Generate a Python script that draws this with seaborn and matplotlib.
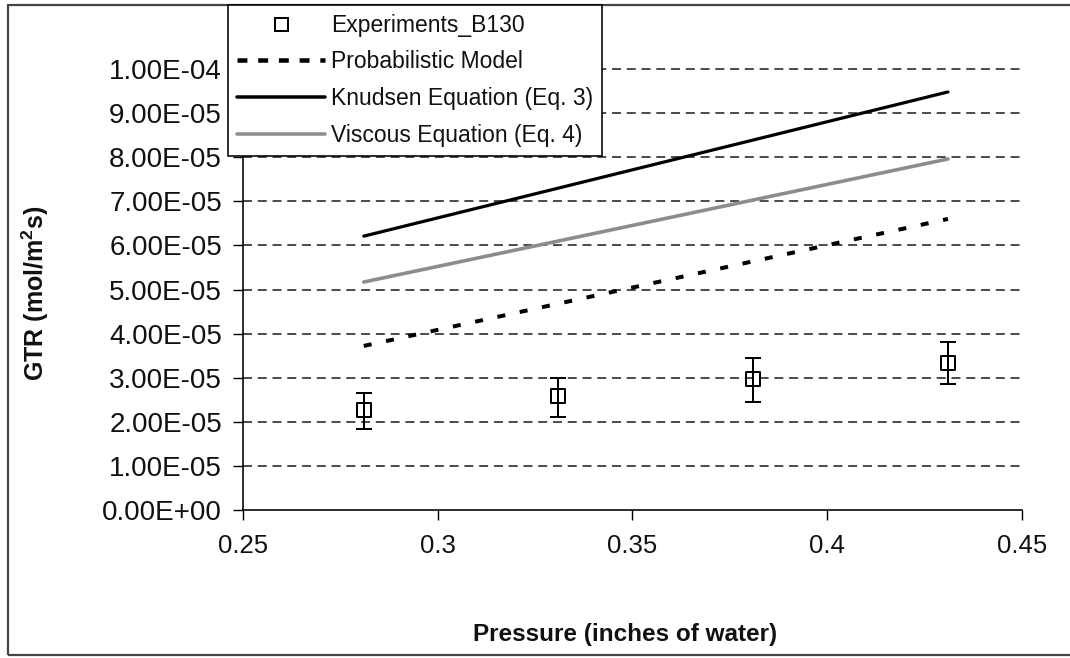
import matplotlib
matplotlib.use("Agg")
import matplotlib.pyplot as plt
from matplotlib.lines import Line2D
from matplotlib.patches import Rectangle
from matplotlib.ticker import FuncFormatter
import numpy as np
import pandas as pd
import seaborn as sns

# Pressure levels (inches of water)
pressure = [0.281, 0.331, 0.381, 0.431]

# Measured gas transmission rate, B130 sample (mol/m^2 s)
exp_gtr = [2.27e-5, 2.59e-5, 2.97e-5, 3.33e-5]
exp_err_hi = [0.38e-5, 0.41e-5, 0.48e-5, 0.47e-5]
exp_err_lo = [0.43e-5, 0.49e-5, 0.52e-5, 0.47e-5]

# Model predictions
prob_model = [3.72e-5, 4.68e-5, 5.64e-5, 6.60e-5]
knudsen = [6.21e-5, 7.30e-5, 8.39e-5, 9.48e-5]
viscous = [5.17e-5, 6.10e-5, 7.03e-5, 7.96e-5]

y_ticks = [0, 1e-5, 2e-5, 3e-5, 4e-5, 5e-5, 6e-5, 7e-5, 8e-5, 9e-5, 1e-4]
x_ticks = [0.25, 0.3, 0.35, 0.4, 0.45]

labels = ["Experiments_B130", "Probabilistic Model",
          "Knudsen Equation (Eq. 3)", "Viscous Equation (Eq. 4)"]

sns.set_theme(style="white")
plt.rcParams["font.family"] = ["Liberation Sans", "DejaVu Sans"]
plt.rcParams["mathtext.fontset"] = "custom"
plt.rcParams["mathtext.rm"] = "Liberation Sans"
plt.rcParams["mathtext.bf"] = "Liberation Sans:bold"

W, H = 1070, 658
fig = plt.figure(figsize=(W / 100, H / 100), dpi=100)
ax = fig.add_axes([243 / W, 1 - 510 / H, (1022 - 243) / W, (510 - 69) / H])

px = 72 / 100  # points per pixel

df = pd.DataFrame({"p": pressure, "exp": exp_gtr, "prob": prob_model,
                   "knud": knudsen, "visc": viscous})

# horizontal dashed grid
for yv in y_ticks[1:]:
    ax.axhline(yv, color="#3c3c3c", lw=1.8 * px, dashes=(5, 3.2), zorder=1,
               clip_on=False)

sns.lineplot(data=df, x="p", y="knud", ax=ax, color="black", lw=3.2 * px,
             zorder=3, legend=False)
sns.lineplot(data=df, x="p", y="visc", ax=ax, color="#8c8c8c", lw=3.6 * px,
             zorder=3, legend=False)
prob_line = sns.lineplot(data=df, x="p", y="prob", ax=ax, color="black",
                         lw=4 * px, zorder=3, legend=False).lines[-1]
prob_line.set_dashes((2.0, 3.7))

ax.errorbar(pressure, exp_gtr, yerr=[exp_err_lo, exp_err_hi], fmt="none",
            ecolor="black", elinewidth=2 * px, capsize=8 * px,
            capthick=2 * px, zorder=4)
sns.scatterplot(data=df, x="p", y="exp", ax=ax, marker="s", s=(14 * px) ** 2,
                facecolor="none", edgecolor="black", linewidth=2 * px,
                zorder=5, legend=False)

ax.set_xlim(0.25, 0.45)
ax.set_ylim(0, 1e-4)
ax.set_xticks(x_ticks)
ax.set_yticks(y_ticks)
ax.xaxis.set_major_formatter(FuncFormatter(lambda v, _: f"{v:g}"))
ax.yaxis.set_major_formatter(FuncFormatter(lambda v, _: f"{v:.2E}"))
ax.tick_params(axis="both", direction="out", length=10 * px, width=1.4 * px,
               color="black", labelcolor="#111111")
ax.tick_params(axis="y", labelsize=20, pad=11 * px, left=True)
ax.tick_params(axis="x", labelsize=18.5, pad=14 * px, bottom=True)

for side in ["top", "right"]:
    ax.spines[side].set_visible(False)
for side in ["left", "bottom"]:
    ax.spines[side].set_color("black")
    ax.spines[side].set_linewidth(1.6 * px)
ax.grid(False)

ax.set_xlabel("")
ax.set_ylabel("")
fig.text(35 / W, 1 - 293 / H, r"GTR (mol/m$^{\mathbf{2}}$s)", rotation=90,
         ha="center", va="center", fontsize=18, fontweight="bold",
         color="#111111")
fig.text(625 / W, 1 - 635 / H, "Pressure (inches of water)", ha="center",
         va="center", fontsize=17.5, fontweight="bold", color="#111111")

# legend
handles = [
    Line2D([], [], ls="none", marker="s", markersize=13 * px,
           markerfacecolor="white", markeredgecolor="black",
           markeredgewidth=2 * px),
    Line2D([], [], color="black", lw=4.5 * px, dashes=(2.2, 2.4)),
    Line2D([], [], color="black", lw=3.5 * px),
    Line2D([], [], color="#8c8c8c", lw=3.5 * px),
]
leg = fig.legend(handles, labels, loc="upper left",
                 bbox_to_anchor=(228 / W, 1 - 5 / H), fontsize=16.5,
                 frameon=True, fancybox=False, framealpha=1,
                 edgecolor="black", handlelength=3.85, handletextpad=0.25,
                 labelspacing=0.6, borderpad=0.38, borderaxespad=0)
leg.get_frame().set_linewidth(1.6 * px)
for t in leg.get_texts():
    t.set_color("#111111")

# outer frame
fig.patches.append(Rectangle((8 / W, 1 - 655 / H), 1.2, (655 - 5) / H,
                             transform=fig.transFigure, fill=False,
                             edgecolor="#444444", lw=2.2 * px, zorder=0))

fig.savefig("out.png", dpi=100, facecolor="white")
